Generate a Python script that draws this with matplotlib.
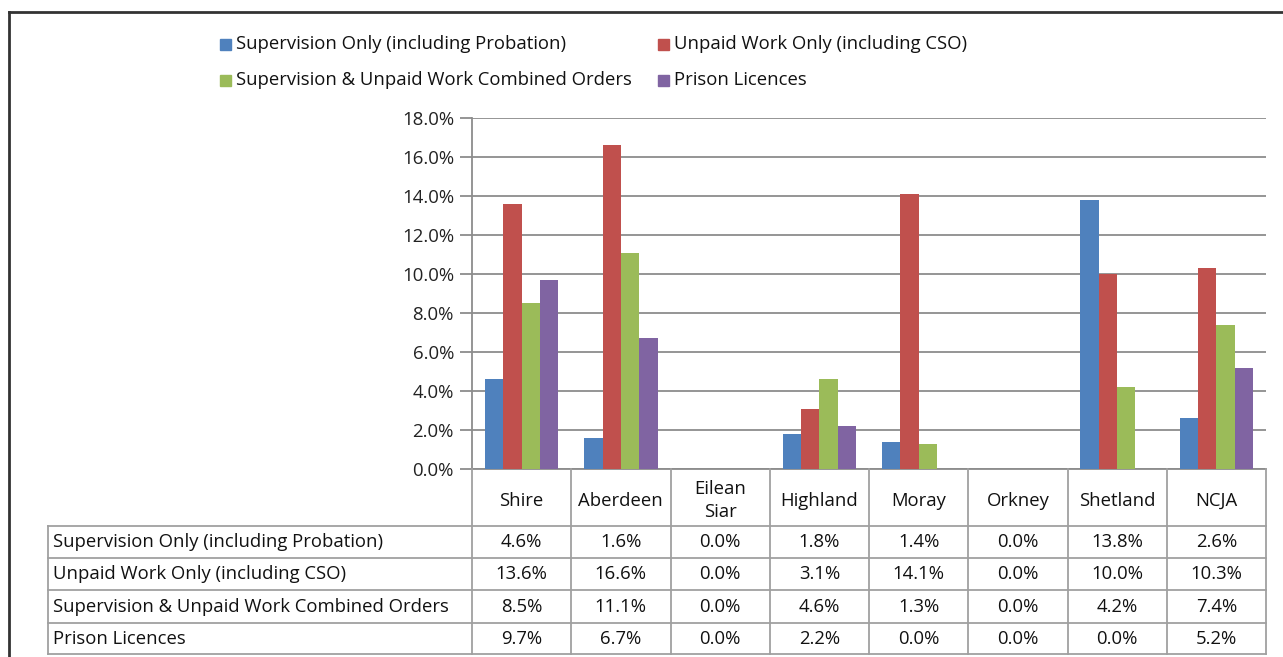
import numpy as np
import matplotlib
matplotlib.use("Agg")
import matplotlib.pyplot as plt
from matplotlib.lines import Line2D
from matplotlib.patches import Rectangle

regions = ["Shire", "Aberdeen", "Eilean\nSiar", "Highland", "Moray", "Orkney", "Shetland", "NCJA"]
series_names = [
    "Supervision Only (including Probation)",
    "Unpaid Work Only (including CSO)",
    "Supervision & Unpaid Work Combined Orders",
    "Prison Licences",
]
supervision = [4.6, 1.6, 0.0, 1.8, 1.4, 0.0, 13.8, 2.6]
unpaid_work = [13.6, 16.6, 0.0, 3.1, 14.1, 0.0, 10.0, 10.3]
combined = [8.5, 11.1, 0.0, 4.6, 1.3, 0.0, 4.2, 7.4]
licences = [9.7, 6.7, 0.0, 2.2, 0.0, 0.0, 0.0, 5.2]
y_ticks = [0, 2, 4, 6, 8, 10, 12, 14, 16, 18]

colors = ["#4F81BD", "#C0504D", "#9BBB59", "#8064A2"]
values = [supervision, unpaid_work, combined, licences]

W, H = 1283, 657
plt.rcParams['font.family'] = ['Open Sans', 'DejaVu Sans']
fs = 13.3
fig = plt.figure(figsize=(W / 100, H / 100), dpi=100)

def fx(px):
    return px / W

def fy(py):
    return 1 - py / H

# plot area in pixels
left, right, top, bottom = 472, 1266, 118, 469
ax = fig.add_axes([fx(left), fy(bottom), fx(right - left), (bottom - top) / H])

n = len(regions)
x = np.arange(n)
bw = 0.185
for i, (vals, c) in enumerate(zip(values, colors)):
    ax.bar(x + (i - 1.5) * bw, vals, bw, color=c, zorder=3)

ax.set_xlim(-0.5, n - 0.5)
ax.set_ylim(0, 18)
ax.set_yticks(y_ticks)
ax.set_yticklabels([f"{t:.1f}%" for t in y_ticks], fontsize=13.4, color="#222222")
ax.set_xticks([])
ax.grid(axis="y", color="#8c8c8c", linewidth=1.3, zorder=0)
for s in ["top", "right"]:
    ax.spines[s].set_visible(False)
ax.spines["left"].set_color("#8c8c8c")
ax.spines["bottom"].set_color("#8c8c8c")
ax.spines["left"].set_linewidth(1.3)
ax.spines["bottom"].set_linewidth(1.3)
ax.tick_params(axis="y", length=9, color="#8c8c8c", width=1.3, pad=4)

# data table below
line_c = "#a0a0a0"
col_w = (right - left) / n
header_bottom = 526
row_lines = [526, 558, 590, 623, 654]
tbl_left = 48

def hline(y, x0, x1):
    fig.add_artist(Line2D([fx(x0), fx(x1)], [fy(y), fy(y)], color=line_c, lw=1.3))

def vline(xp, y0, y1):
    fig.add_artist(Line2D([fx(xp), fx(xp)], [fy(y0), fy(y1)], color=line_c, lw=1.3))

for yl in row_lines:
    hline(yl, tbl_left, right)
vline(tbl_left, row_lines[0], row_lines[-1])
for j in range(n + 1):
    vline(left + j * col_w, bottom, row_lines[-1])

for j, name in enumerate(regions):
    fig.text(fx(left + (j + 0.5) * col_w), fy((bottom + header_bottom) / 2 + 3), name,
             ha="center", va="center", fontsize=fs, color="#111111", linespacing=1.35)

for r, (sname, vals) in enumerate(zip(series_names, values)):
    yc = (row_lines[r] + row_lines[r + 1]) / 2
    fig.text(fx(tbl_left + 5), fy(yc), sname, ha="left", va="center", fontsize=fs, color="#111111")
    for j, v in enumerate(vals):
        fig.text(fx(left + (j + 0.5) * col_w), fy(yc), f"{v:.1f}%",
                 ha="center", va="center", fontsize=fs, color="#111111")

# legend
leg_pos = [(220, 44), (658, 44), (220, 80), (658, 80)]
for (lx, ly), sname, c in zip(leg_pos, series_names, colors):
    fig.add_artist(Rectangle((fx(lx), fy(ly + 6)), fx(11), 11 / H, color=c))
    fig.text(fx(lx + 16), fy(ly), sname, ha="left", va="center", fontsize=fs, color="#111111")

# outer frame
fig.add_artist(Line2D([fx(9), fx(9)], [fy(12), 0], color="#333333", lw=2))
fig.add_artist(Line2D([fx(9), 1], [fy(12), fy(12)], color="#333333", lw=2))

fig.savefig("out.png", dpi=100, facecolor="white")
